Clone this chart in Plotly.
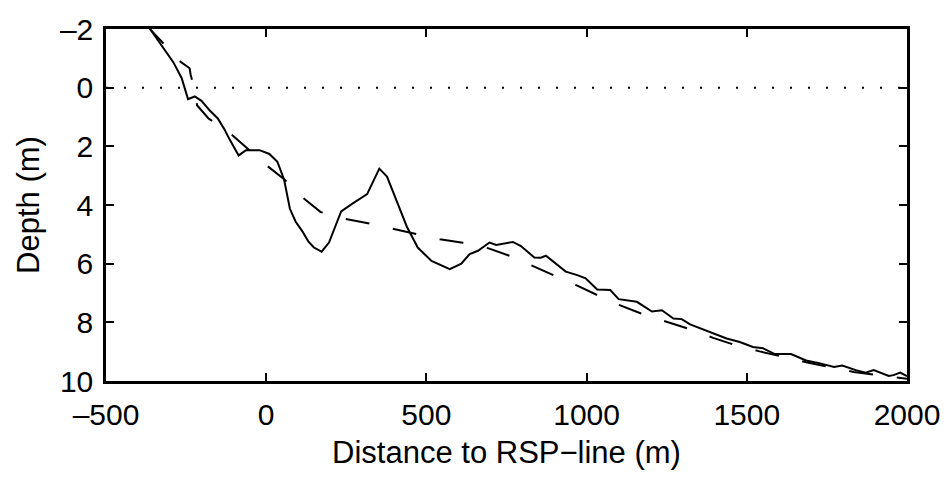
import plotly.graph_objects as go

# Measured bathymetry profile (solid)
dist_measured = [-372, -321, -290, -264, -244, -223, -202, -176, -151, -130, -114, -86, -63, -21, 10, 35, 56,
                 74, 92, 113, 132, 149, 173, 196, 234, 268, 315, 353, 377, 413, 439, 473, 516, 573, 609,
                 635, 661, 697, 718, 770, 795, 837, 857, 873, 935, 971, 997, 1033, 1074, 1100, 1157, 1204,
                 1235, 1271, 1297, 1323, 1364, 1400, 1437, 1478, 1519, 1550, 1586, 1612, 1638, 1685, 1726,
                 1772, 1798, 1840, 1871, 1896, 1917, 1943, 1958, 1979, 2000]
depth_measured = [-2.15, -1.37, -0.87, -0.33, 0.39, 0.30, 0.45, 0.78, 1.05, 1.43, 1.77, 2.31, 2.13, 2.13, 2.26,
                  2.53, 3.14, 4.13, 4.57, 4.90, 5.25, 5.45, 5.59, 5.28, 4.22, 3.96, 3.63, 2.76, 3.03, 4.02,
                  4.74, 5.45, 5.91, 6.19, 6.00, 5.67, 5.56, 5.28, 5.36, 5.26, 5.40, 5.79, 5.80, 5.73, 6.27,
                  6.39, 6.50, 6.88, 6.90, 7.21, 7.30, 7.63, 7.59, 7.87, 7.89, 8.07, 8.25, 8.40, 8.55, 8.67,
                  8.84, 8.88, 9.08, 9.08, 9.08, 9.30, 9.39, 9.52, 9.47, 9.63, 9.72, 9.63, 9.71, 9.83, 9.80,
                  9.71, 9.83]

# Equilibrium / model profile (dashed)
dist_model = [-372, -320, -282, -239, -236, -218, -216, -180, -114, -63, 0, 56, 113, 170, 248, 318, 394, 465,
              542, 614, 692, 759, 832, 899, 971, 1035, 1100, 1170, 1250, 1321, 1395, 1462, 1540, 1610, 1685,
              1757, 1834, 1907, 2000]
depth_model = [-2.1, -1.5, -1.0, -0.66, -0.45, 0.30, 0.60, 1.05, 1.54, 2.04, 2.64, 3.12, 3.74, 4.24, 4.48,
               4.62, 4.81, 4.99, 5.17, 5.29, 5.47, 5.73, 6.08, 6.39, 6.75, 7.08, 7.40, 7.70, 7.98, 8.23, 8.53,
               8.77, 8.99, 9.18, 9.36, 9.52, 9.69, 9.80, 9.92]

# Mean sea level reference
msl_x = [-500, 2000]
msl_y = [0, 0]

x_ticks = [-500, 0, 500, 1000, 1500, 2000]
x_ticktext = ["\u2013500", "0", "500", "1000", "1500", "2000"]
y_ticks = [-2, 0, 2, 4, 6, 8, 10]
y_ticktext = ["\u20132", "0", "2", "4", "6", "8", "10"]

FONT = "Liberation Sans, Arial, Helvetica, sans-serif"

fig = go.Figure()
fig.add_trace(go.Scatter(x=msl_x, y=msl_y, mode="lines",
                         line=dict(color="black", width=2, dash="2px,16px"), showlegend=False))
fig.add_trace(go.Scatter(x=dist_model, y=depth_model, mode="lines",
                         line=dict(color="black", width=2, dash="24px,24px"), showlegend=False))
fig.add_trace(go.Scatter(x=dist_measured, y=depth_measured, mode="lines",
                         line=dict(color="black", width=2), showlegend=False))

axis_common = dict(showgrid=False, zeroline=False, showline=True, linecolor="black", linewidth=2.5,
                   mirror="ticks", ticks="inside", ticklen=8, tickwidth=2, tickcolor="black",
                   tickfont=dict(family=FONT, size=30, color="black"))

fig.update_xaxes(range=[-500, 2000], tickvals=x_ticks, ticktext=x_ticktext, ticklabelstandoff=5,
                 title=dict(text="Distance to RSP\u2212line (m)", font=dict(family=FONT, size=31, color="black"),
                            standoff=12),
                 **axis_common)
fig.update_yaxes(range=[10, -2], tickvals=y_ticks, ticktext=y_ticktext, ticklabelstandoff=4,
                 title=dict(text="Depth (m)", font=dict(family=FONT, size=31, color="black"), standoff=12),
                 **axis_common)

fig.update_layout(width=952, height=477, margin=dict(l=106, r=40, t=18, b=96, pad=0),
                  paper_bgcolor="white", plot_bgcolor="white", font=dict(family=FONT, color="black"))

fig.write_html("out.html")
